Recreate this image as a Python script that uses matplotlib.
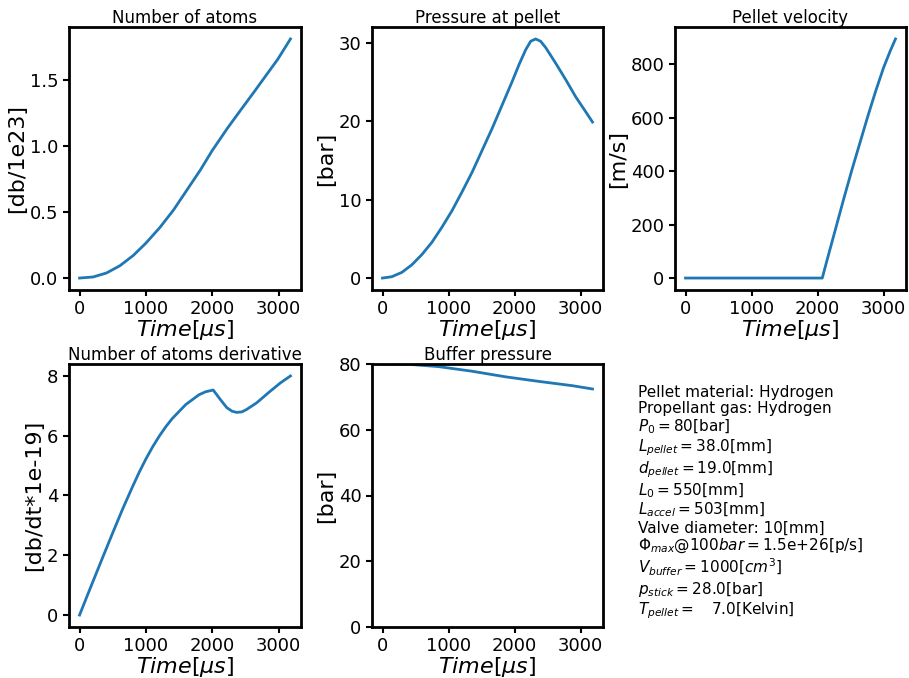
import matplotlib
matplotlib.use("Agg")
import matplotlib.pyplot as plt

# Number of atoms [1e23]
t_atoms = [0, 203, 405, 608, 810, 1000, 1215, 1418, 1620, 1823, 2000, 2228,
           2430, 2633, 2835, 2987, 3180]
n_atoms = [0, 0.008, 0.038, 0.093, 0.171, 0.264, 0.385, 0.516, 0.667, 0.819,
           0.965, 1.133, 1.272, 1.41, 1.55, 1.655, 1.81]

# Pressure at pellet [bar]
t_press = [0, 142, 294, 446, 597, 749, 901, 1053, 1205, 1357, 1509, 1661,
           1813, 1965, 2066, 2167, 2243, 2319, 2395, 2471, 2623, 2775, 2927,
           3078, 3180]
p_pellet = [0, 0.17, 0.73, 1.7, 3.0, 4.57, 6.5, 8.6, 11.0, 13.5, 16.3, 19.1,
            22.1, 25.1, 27.2, 29.1, 30.2, 30.5, 30.2, 29.4, 27.4, 25.3, 23.1,
            21.2, 19.9]

# Pellet velocity [m/s]
t_vel = [0, 2071, 2150, 2280, 2400, 2520, 2640, 2760, 2880, 3000, 3100, 3180]
v_pellet = [0, 0, 73, 191, 300, 405, 505, 605, 700, 788, 850, 895]

# Number of atoms derivative [1e19]
t_deriv = [0, 140, 340, 500, 650, 800, 900, 1000, 1100, 1200, 1300, 1400,
           1600, 1800, 1900, 2015, 2120, 2220, 2300, 2370, 2450, 2520, 2670,
           2870, 3030, 3180]
dn_dt = [0, 0.78, 1.88, 2.75, 3.55, 4.3, 4.78, 5.22, 5.62, 5.98, 6.3, 6.58,
         7.04, 7.37, 7.47, 7.53, 7.22, 6.94, 6.82, 6.78, 6.8, 6.88, 7.1,
         7.48, 7.77, 8.0]

# Buffer pressure [bar]
t_buf = [0, 400, 851, 1357, 1863, 2370, 2876, 3180]
p_buffer = [80, 79.9, 79.2, 77.8, 76.1, 74.7, 73.4, 72.4]

info_lines = [
    'Pellet material: Hydrogen',
    'Propellant gas: Hydrogen',
    r'$P_0 = 80$[bar]',
    r'$L_{pellet} = 38.0$[mm]',
    r'$d_{pellet} = 19.0$[mm]',
    r'$L_0 = 550$[mm]',
    r'$L_{accel} = 503$[mm]',
    'Valve diameter: 10[mm]',
    r'$\Phi_{max}@100bar = $1.5e+26[p/s]',
    r'$V_{buffer} = 1000[cm^3]$',
    r'$p_{stick} = 28.0$[bar]',
    r'$T_{pellet} = $   7.0[Kelvin]',
]

fig = plt.figure(figsize=(9.09, 6.78), dpi=100)
W, H = 909, 678


def make_ax(left, top, right, bottom):
    return fig.add_axes([left / W, 1 - bottom / H, (right - left) / W, (bottom - top) / H])


panels = [
    (make_ax(69, 27, 301, 290), t_atoms, n_atoms, 'Number of atoms', '[db/1e23]'),
    (make_ax(372, 27, 603, 290), t_press, p_pellet, 'Pressure at pellet', '[bar]'),
    (make_ax(675, 27, 906, 290), t_vel, v_pellet, 'Pellet velocity', '[m/s]'),
    (make_ax(69, 364, 301, 627), t_deriv, dn_dt, 'Number of atoms derivative', '[db/dt*1e-19]'),
    (make_ax(372, 364, 603, 627), t_buf, p_buffer, 'Buffer pressure', '[bar]'),
]

for ax, x, y, title, ylabel in panels:
    ax.plot(x, y, color='#1f77b4', lw=2)
    ax.set_title(title, fontsize=12, pad=2)
    ax.set_ylabel(ylabel, fontsize=16, labelpad=2)
    ax.set_xlabel(r'$Time[\mu s]$', fontsize=16, labelpad=0)
    ax.set_xticks([0, 1000, 2000, 3000])
    ax.tick_params(labelsize=13, width=1.5, length=4)
    for s in ax.spines.values():
        s.set_linewidth(2)

panels[1][0].set_yticks([0, 10, 20, 30])
panels[4][0].set_ylim(0, 80)
panels[4][0].set_yticks([0, 20, 40, 60, 80])

fig.text(638 / W, 1 - 385 / H, '\n'.join(info_lines), fontsize=11,
         va='top', ha='left', linespacing=1.1)

fig.savefig('out.png', dpi=100)
